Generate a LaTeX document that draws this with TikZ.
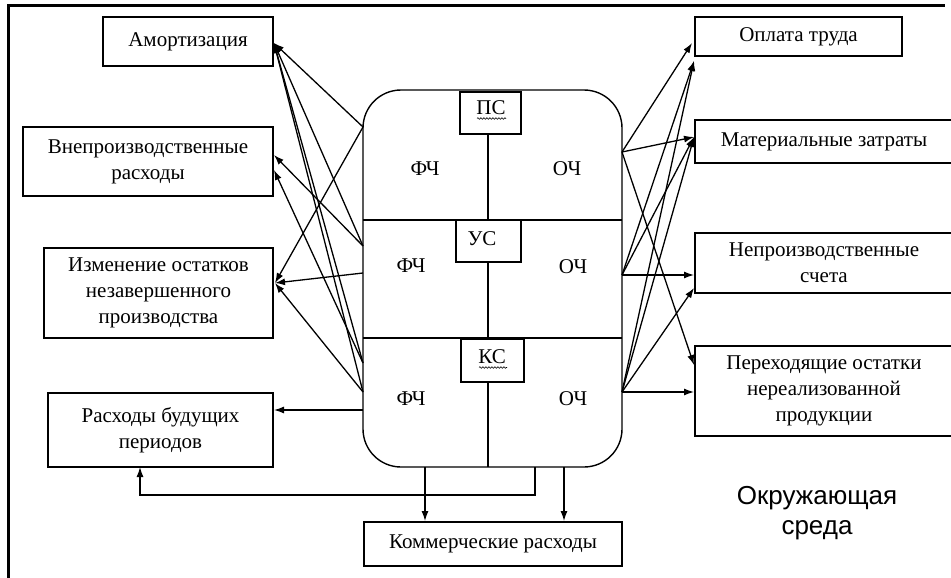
\documentclass[tikz,border=0pt]{standalone}
\usepackage{fontspec}
\setmainfont{Liberation Serif}
\newfontfamily\envfont{Liberation Sans}
\usetikzlibrary{arrows.meta,decorations.pathmorphing}
\begin{document}
\begin{tikzpicture}[x=1pt,y=-1pt,
  box/.style={draw, line width=1.4pt, inner sep=0pt, align=center, fill=white,
              font=\fontsize{21}{26}\selectfont},
  lab/.style={font=\fontsize{21}{26}\selectfont, inner sep=0pt, anchor=base},
  conn/.style={line width=1.3pt, -{Latex[length=10pt,width=7pt]}},
  ln/.style={line width=1.4pt},
  squiggle/.style={line width=0.6pt, decorate, decoration={snake, amplitude=0.8pt, segment length=3pt}}]
\useasboundingbox (0,0) rectangle (951,578);
% frame
\draw[line width=3pt] (8,578) -- (8,6) -- (945,6);

% central block
\node[draw, line width=1.4pt, rounded corners=38pt, minimum width=259pt, minimum height=377pt, inner sep=0pt] (core) at (492.5,278.5) {};
\draw[ln] (363,220) -- (622,220);
\draw[ln] (363,338) -- (622,338);
\draw[ln] (488,134) -- (488,220);
\draw[ln] (488,262) -- (488,339);
\draw[ln] (488,382) -- (488,467);

\node[box, minimum width=61pt, minimum height=42pt] (ps) at (490.5,113) {};
\node[box, minimum width=65pt, minimum height=42pt] (us) at (488.5,241) {};
\node[box, minimum width=63pt, minimum height=43pt] (ks) at (492.5,360.5) {};
\node[lab] (pst) at (491,114) {ПС};
\node[lab] (ust) at (482,245) {УС};
\node[lab] (kst) at (492,363) {КС};
\draw[squiggle] (477,118.5) -- (506,118.5);
\draw[squiggle] (479,367.5) -- (507,367.5);

\node[lab] (f1) at (425,175) {ФЧ};
\node[lab] (o1) at (567,175) {ОЧ};
\node[lab] (f2) at (411,272) {ФЧ};
\node[lab] (o2) at (573,273) {ОЧ};
\node[lab] (f3) at (411,405) {ФЧ};
\node[lab] (o3) at (573,405) {ОЧ};

% left boxes
\node[box, minimum width=170pt, minimum height=49pt] (am) at (188,41.5) {Амортизация};
\node[box, minimum width=250pt, minimum height=69pt] (vn) at (148,161.5) {Внепроизводственные\\расходы};
\node[box, minimum width=229pt, minimum height=90pt] (iz) at (158.5,293) {Изменение остатков\\незавершенного\\производства};
\node[box, minimum width=225pt, minimum height=74pt] (rb) at (160.5,430) {Расходы будущих\\периодов};
% bottom box
\node[box, minimum width=258pt, minimum height=44pt] (km) at (493,544) {Коммерческие расходы};
% right boxes
\node[box, minimum width=207pt, minimum height=39pt] (op) at (798.5,36.5) {Оплата труда};
\node[box, minimum width=258pt, minimum height=43pt] (mt) at (824,141.5) {Материальные затраты};
\node[box, minimum width=258pt, minimum height=60pt] (np) at (824,263) {Непроизводственные\\счета};
\node[box, minimum width=258pt, minimum height=90pt] (pr) at (824,391) {Переходящие остатки\\нереализованной\\продукции};

\node[font=\envfont\fontsize{26}{30}\selectfont, align=center, inner sep=0pt] (env) at (817,513) {Окружающая\\среда};

% attachment points on the central block
\coordinate (P1) at (363,127);
\coordinate (P2) at (363,246);
\coordinate (P3) at (363,273);
\coordinate (P4) at (363,363);
\coordinate (P5) at (363,392);
\coordinate (P6) at (363,410);
\coordinate (Q1) at (622,152);
\coordinate (Q2) at (622,275);
\coordinate (Q3) at (622,392);
\coordinate (B1) at (425,467);
\coordinate (B2) at (535,467);
\coordinate (B3) at (564,467);
% arrow targets
\coordinate (amT) at (274,43);
\coordinate (vnT1) at (274,155);
\coordinate (vnT2) at (274,170);
\coordinate (izT) at (275,283);
\coordinate (rbT) at (274,410);
\coordinate (rbB) at (140,467);
\coordinate (opT1) at (692,43);
\coordinate (opT2) at (694,61);
\coordinate (mtT) at (694,137);
\coordinate (npT1) at (694,275);
\coordinate (npT2) at (694,288);
\coordinate (prT1) at (694,365);
\coordinate (prT2) at (694,392);
\coordinate (kmT1) at (425,521);
\coordinate (kmT2) at (564,521);

% left connectors
\draw[conn] (P1) -- (amT);
\draw[conn] (P2) -- (amT);
\draw[conn] (P4) -- (amT);
\draw[conn] (P5) -- (amT);
\draw[conn] (P2) -- (vnT1);
\draw[conn] (P4) -- (vnT2);
\draw[conn] (P1) -- (izT);
\draw[conn] (P3) -- (izT);
\draw[conn] (P5) -- (izT);
\draw[conn] (P6) -- (rbT);
% right connectors
\draw[conn] (Q1) -- (opT1);
\draw[conn] (Q1) -- (mtT);
\draw[conn] (Q1) -- (prT1);
\draw[conn] (Q2) -- (opT2);
\draw[conn] (Q2) -- (mtT);
\draw[conn] (Q2) -- (npT1);
\draw[conn] (Q3) -- (opT2);
\draw[conn] (Q3) -- (mtT);
\draw[conn] (Q3) -- (npT2);
\draw[conn] (Q3) -- (prT2);
% bottom connectors
\draw[conn] (B1) -- (kmT1);
\draw[conn] (B3) -- (kmT2);
\draw[conn] (B2) -- (535,495) -- (140,495) -- (rbB);
\end{tikzpicture}
\end{document}
